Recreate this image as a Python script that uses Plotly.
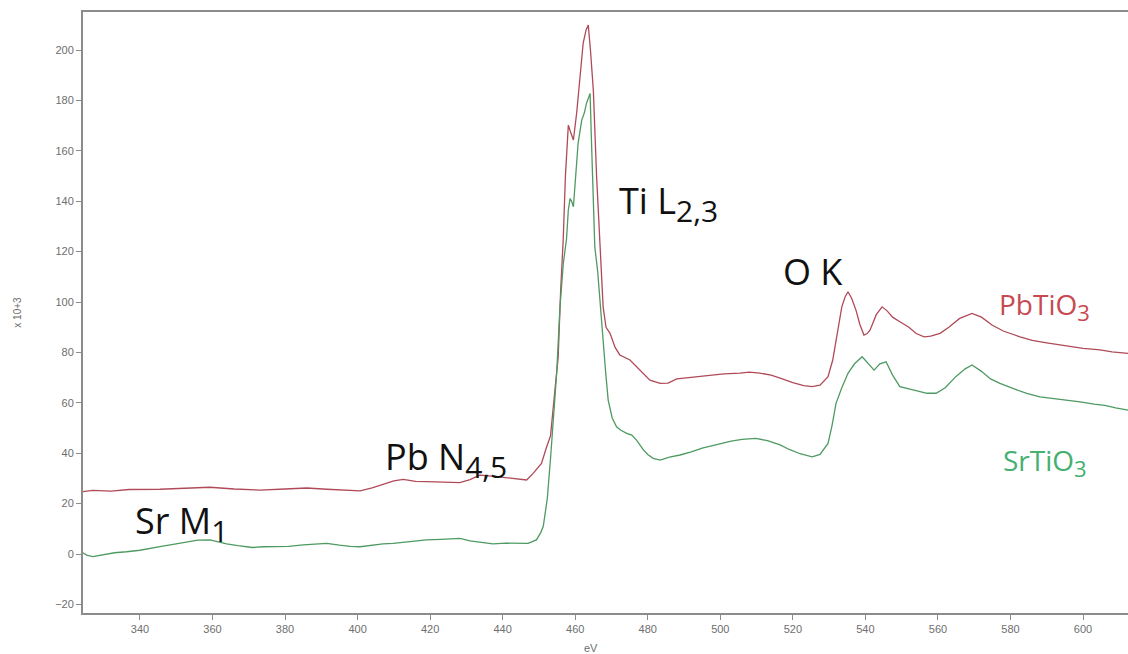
import plotly.graph_objects as go

# Energy-loss spectra (counts in units of 10^3) for the two perovskites
pbtio3_ev = [324.3, 327, 332, 337, 345.5, 352, 359.3, 366, 373, 380, 386, 391.5, 396, 400.7,
             404, 406.2, 410, 412.6, 416, 419, 424, 428.2, 431, 433.7, 437, 440.1, 443, 446.6,
             448.4, 450.7, 452, 453.2, 454.4, 455.3, 456.0, 456.7, 457.3, 458.1, 458.6, 459.5,
             460.4, 461.3, 462.2, 463.0, 463.6, 464.2, 465.0, 465.9, 466.8, 467.7, 468.5, 469.6,
             471, 472.3, 475.1, 477.9, 480.6, 483.4, 485.6, 488, 491, 494.4, 498, 501, 505.4, 508,
             510.9, 514, 516.5, 520, 523, 525.3, 527.5, 529.7, 531, 531.9, 533.5, 534.4, 535.2,
             536.2, 537.4, 538.5, 539.6, 540.5, 541.3, 543, 544.6, 546, 547.5, 549.5, 552, 554,
             556.2, 558, 560.6, 563, 566, 569.4, 572, 574.9, 578, 582.6, 586, 590, 593.7, 597,
             600, 604.7, 608, 612.4]
pbtio3_counts = [24.8, 25.3, 25.0, 25.6, 25.7, 26.0, 26.5, 25.8, 25.4, 25.8, 26.2, 25.7, 25.4, 25.1,
                 26.3, 27.4, 29.0, 29.6, 28.8, 28.7, 28.4, 28.3, 29.5, 31.3, 30.9, 30.4, 30.0, 29.4,
                 32.0, 36.0, 42.0, 47.0, 65.0, 78.0, 105.0, 125.0, 150.0, 170.2, 168.0, 164.3,
                 175.0, 189.4, 202.8, 208.0, 209.9, 200.0, 184.0, 149.7, 122.0, 98.0, 90.0, 87.6,
                 82.0, 79.0, 77.0, 73.0, 69.0, 67.7, 67.8, 69.5, 70.0, 70.4, 71.2, 71.5, 71.8, 72.2,
                 71.8, 71.0, 69.8, 68.0, 66.8, 66.4, 67.0, 70.4, 77.0, 84.9, 98.1, 102.0, 104.1,
                 101.5, 96.8, 91.0, 86.9, 87.5, 88.9, 95.0, 98.1, 96.5, 94.0, 92.2, 90.0, 87.5,
                 86.2, 86.5, 87.6, 90.0, 93.5, 95.5, 94.0, 90.9, 88.5, 86.2, 84.8, 83.8, 82.9, 82.3,
                 81.6, 81.0, 80.2, 79.6]

srtio3_ev = [324.3, 325.3, 327, 330, 333, 336.3, 340, 345.5, 349, 352.9, 356, 359.3, 361.5, 363.9,
             367, 371, 374, 377.7, 381, 385, 388, 391.5, 395, 398, 400.7, 404, 407, 409.8, 413,
             416, 419, 423, 428.2, 431, 434, 437.3, 441, 444.8, 447, 449.3, 450.5, 451.2, 452.3,
             453.2, 453.9, 454.9, 455.8, 456.7, 457.6, 458.1, 458.6, 459.0, 459.5, 460.2, 460.8,
             461.8, 462.5, 463.1, 463.6, 464.1, 464.5, 465.4, 466.2, 466.8, 467.7, 468.4, 469.1,
             470.2, 471.4, 472.5, 474.2, 475.6, 476.9, 478.8, 480, 481.5, 483.4, 486, 488.9, 492,
             495, 498, 500, 503, 506, 509.8, 513, 516.5, 519, 522, 525.3, 527.5, 529.7, 530.8,
             531.9, 533.5, 535.2, 537, 539.1, 540.5, 542.4, 544, 545.7, 547.5, 549.5, 552, 555,
             557, 559.5, 562, 565, 567.5, 569.4, 572, 574.5, 577.1, 581, 584.5, 588.1, 592, 595.5,
             599.2, 603, 606, 609, 612.4]
srtio3_counts = [0.5, -0.4, -1.0, -0.3, 0.5, 0.9, 1.5, 2.9, 3.8, 4.9, 5.5, 5.6, 4.8, 4.0,
                 3.3, 2.6, 2.9, 2.9, 3.0, 3.6, 4.0, 4.2, 3.5, 3.0, 2.9, 3.6, 4.0, 4.2, 4.6,
                 5.2, 5.6, 5.8, 6.2, 5.2, 4.6, 4.0, 4.3, 4.2, 4.2, 5.6, 8.5, 11.0, 22.0,
                 38.0, 52.0, 72.0, 98.0, 115.0, 125.0, 136.5, 141.1, 140.0, 137.8, 150.0, 163.0,
                 172.2, 175.0, 178.8, 181.0, 182.8, 163.0, 122.0, 112.0, 100.0, 85.0, 72.0, 61.0,
                 54.0, 50.5, 49.2, 47.9, 47.2, 45.2, 41.3, 39.5, 38.0, 37.3, 38.5, 39.3, 40.5,
                 42.0, 43.0, 43.9, 44.8, 45.5, 45.9, 45.0, 43.3, 41.5, 39.8, 38.6, 39.5, 43.9, 51.0,
                 59.8, 66.0, 71.7, 75.5, 78.3, 76.0, 73.0, 75.5, 76.3, 71.0, 66.4, 65.5, 64.4,
                 63.8, 63.8, 66.0, 70.5, 73.5, 75.0, 72.5, 69.5, 67.7, 65.5, 63.8, 62.4, 61.8, 61.2,
                 60.4, 59.5, 59.0, 58.0, 57.1]

x_ticks = [340, 360, 380, 400, 420, 440, 460, 480, 500, 520, 540, 560, 580, 600]
y_ticks = [-20, 0, 20, 40, 60, 80, 100, 120, 140, 160, 180, 200]

RED = "#b04a58"
GREEN = "#4e9a62"

fig = go.Figure()
fig.add_trace(go.Scatter(x=pbtio3_ev, y=pbtio3_counts, mode="lines", name="PbTiO3",
                         line=dict(color=RED, width=1.3)))
fig.add_trace(go.Scatter(x=srtio3_ev, y=srtio3_counts, mode="lines", name="SrTiO3",
                         line=dict(color=GREEN, width=1.3)))


def sub(txt, px):
    return "<sub><span style='font-size:%dpx'>%s</span></sub>" % (px, txt)


big = dict(family="Open Sans, sans-serif", size=36, color="#111111")
labels = [
    ("Sr M" + sub("1", 30), 338.1, 12.0, big),
    ("Pb N" + sub("4,5", 30), 407.0, 37.5, big),
    ("Ti L" + sub("2,3", 30), 471.5, 139.0, big),
    ("O K", 516.7, 112.0, big),
    ("PbTiO" + sub("3", 22), 576.3, 98.3, dict(family="Open Sans, sans-serif", size=28, color="#c84a50")),
    ("SrTiO" + sub("3", 22), 577.4, 36.4, dict(family="Open Sans, sans-serif", size=28, color="#45b070")),
]
for text, x, y, font in labels:
    fig.add_annotation(x=x, y=y, xref="x", yref="y", text=text, showarrow=False,
                       xanchor="left", yanchor="middle", font=font)

small_font = dict(family="Liberation Sans, Arial, sans-serif", size=11, color="#6e6e6e")
axis_common = dict(
    showgrid=False, zeroline=False, showline=True, linecolor="#8c8c8c", linewidth=2,
    ticks="outside", ticklen=5, tickwidth=1, tickcolor="#8c8c8c",
    tickfont=small_font,
)

fig.update_layout(
    width=1128, height=654,
    margin=dict(l=83, r=0, t=12, b=41),
    paper_bgcolor="white", plot_bgcolor="white",
    showlegend=False,
    xaxis=dict(range=[324.3, 612.4], tickvals=x_ticks, mirror=True, **axis_common),
    yaxis=dict(range=[-23.4, 215.1], tickvals=y_ticks,
               title=dict(text="x 10+3", standoff=32,
                          font=dict(family="Liberation Sans, Arial, sans-serif", size=10, color="#6e6e6e")),
               **axis_common),
)

# energy-axis unit, placed just below the tick labels
fig.add_annotation(text="eV", xref="paper", yref="paper", x=0.486, y=-0.058,
                   xanchor="center", yanchor="middle", showarrow=False, font=small_font)

fig.write_html("out.html")
